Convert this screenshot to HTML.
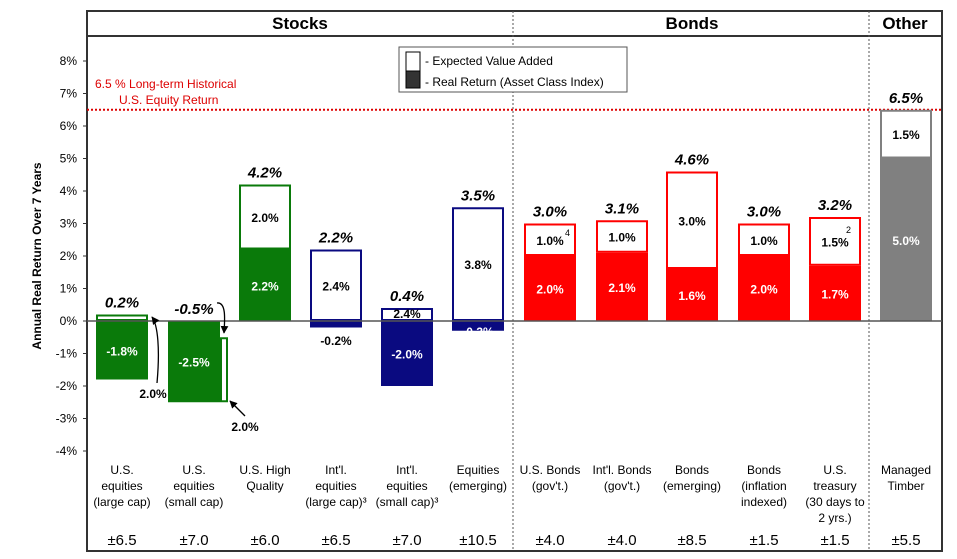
<!DOCTYPE html>
<html><head><meta charset="utf-8"><style>
body{margin:0;background:#fff;}
svg{display:block;font-family:"Liberation Sans",Arial,sans-serif;}
</style></head><body>
<svg id="chart" width="957" height="559" viewBox="0 0 957 559" xmlns="http://www.w3.org/2000/svg">
<defs><marker id="ah" viewBox="0 0 10 10" refX="9" refY="5" markerWidth="6" markerHeight="6" orient="auto"><path d="M0,0 L10,5 L0,10 z" fill="#000"/></marker></defs>
<g id="frame">
<rect x="87" y="11" width="855" height="540" fill="none" stroke="#333" stroke-width="2"/>
<line x1="87" y1="36" x2="942" y2="36" stroke="#333" stroke-width="2"/>
<line x1="513" y1="11" x2="513" y2="551" stroke="#555" stroke-width="1" stroke-dasharray="2,2"/>
<line x1="869" y1="11" x2="869" y2="551" stroke="#555" stroke-width="1" stroke-dasharray="2,2"/>
<text x="300" y="29" font-size="17" font-weight="bold" text-anchor="middle">Stocks</text>
<text x="692" y="29" font-size="17" font-weight="bold" text-anchor="middle">Bonds</text>
<text x="905" y="29" font-size="17" font-weight="bold" text-anchor="middle">Other</text>
</g>
<g id="yaxis"></g>
<text transform="translate(41,256) rotate(-90)" font-size="12" font-weight="bold" text-anchor="middle">Annual Real Return Over 7 Years</text>
<line id="histline" x1="87" x2="942" stroke="#d00" stroke-width="2" stroke-dasharray="2,2"/>
<text x="95" y="88" font-size="12" fill="#d00">6.5 % Long-term Historical</text>
<text x="119" y="104" font-size="12" fill="#d00">U.S. Equity Return</text>
<g>
<rect x="399" y="47" width="228" height="45" fill="#fff" stroke="#555"/>
<rect x="406" y="52" width="14" height="19" fill="#fff" stroke="#000"/>
<rect x="406" y="71" width="14" height="17" fill="#333" stroke="#000"/>
<text x="425" y="65" font-size="12">- Expected Value Added</text>
<text x="425" y="86" font-size="12">- Real Return (Asset Class Index)</text>
</g>
<g id="bars"></g>
<line id="zeroline" x1="87" x2="942" stroke="#555" stroke-width="1.5"/>
<g id="labels"></g>
<g>
<path d="M157,383 C160,350 158,325 152,317" fill="none" stroke="#000" stroke-width="1.3" marker-end="url(#ah)"/>
<text x="153" y="398" font-size="12" font-weight="bold" text-anchor="middle">2.0%</text>
<path d="M217,303 C226,302 225,318 224,333" fill="none" stroke="#000" stroke-width="1.3" marker-end="url(#ah)"/>
<path d="M245,416 L230,401" fill="none" stroke="#000" stroke-width="1.3" marker-end="url(#ah)"/>
<text x="245" y="431" font-size="12" font-weight="bold" text-anchor="middle">2.0%</text>
<text x="565" y="236" font-size="9">4</text>
<text x="846" y="233" font-size="9">2</text>
</g>
</svg>
<script>
const categories=[["U.S.","equities","(large cap)"],["U.S.","equities","(small cap)"],["U.S. High","Quality"],["Int'l.","equities","(large cap)³"],["Int'l.","equities","(small cap)³"],["Equities","(emerging)"],["U.S. Bonds","(gov't.)"],["Int'l. Bonds","(gov't.)"],["Bonds","(emerging)"],["Bonds","(inflation","indexed)"],["U.S.","treasury","(30 days to","2 yrs.)"],["Managed","Timber"]];
const realReturn=[-1.8,-2.5,2.2,-0.2,-2.0,-0.3,2.0,2.1,1.6,2.0,1.7,5.0];
const valueAdded=[2.0,2.0,2.0,2.4,2.4,3.8,1.0,1.0,3.0,1.0,1.5,1.5];
const totals=[0.2,-0.5,4.2,2.2,0.4,3.5,3.0,3.1,4.6,3.0,3.2,6.5];
const ranges=["±6.5","±7.0","±6.0","±6.5","±7.0","±10.5","±4.0","±4.0","±8.5","±1.5","±1.5","±5.5"];
const yTicks=[8,7,6,5,4,3,2,1,0,-1,-2,-3,-4];
const historical=6.5;
const colors=["#0a7a0a","#0a7a0a","#0a7a0a","#0a0a80","#0a0a80","#0a0a80","#f00","#f00","#f00","#f00","#f00","#808080"];
const barLefts=[96,168,239,310,381,452,524,596,666,738,809,880];
const bw=52;
const NS="http://www.w3.org/2000/svg";
function y(v){return 321-32.5*v;}
function mk(t,a,p){const e=document.createElementNS(NS,t);for(const k in a)e.setAttribute(k,a[k]);(p||document.getElementById('chart')).appendChild(e);return e;}
const ya=document.getElementById('yaxis');
yTicks.forEach(t=>{
 const l=mk('line',{x1:83,x2:87,y1:y(t),y2:y(t),stroke:'#333'},ya);
 
 
 const tx=mk('text',{x:77,y:y(t)+4,'font-size':12,'text-anchor':'end'},ya);tx.textContent=t+'%';
 
 
});
const hl=document.getElementById('histline');hl.setAttribute('y1',y(historical));hl.setAttribute('y2',y(historical));
const zl=document.getElementById('zeroline');zl.setAttribute('y1',y(0));zl.setAttribute('y2',y(0));
const bars=document.getElementById('bars'),labs=document.getElementById('labels');
categories.forEach((c,i)=>{
 const x=barLefts[i],col=colors[i],r=realReturn[i],tot=totals[i],cx=x+bw/2;
 const s=mk('rect',{x:x,y:Math.min(y(0),y(r)),width:bw,height:Math.abs(y(r)-y(0)),fill:col},bars);
 
 
 let wb;
 if(tot<0){wb={x:x+bw,y:y(tot),w:8,h:y(r)-y(tot)};}
 else{const base=r>0?r:0;wb={x:x,y:y(tot),w:bw,h:y(base)-y(tot)};}
 const w=mk('rect',{x:wb.x+1,y:wb.y+1,width:wb.w-2,height:Math.max(wb.h-2,0),fill:'#fff',stroke:col,'stroke-width':2},bars);
 
 
 const tt=mk('text',{x:cx,y:(tot<0?y(0):y(tot))-7,'font-size':15,'font-weight':'bold','font-style':'italic','text-anchor':'middle'},labs);
 tt.textContent=tot.toFixed(1)+'%';
 
 
 const rl=mk('text',{'font-size':12,'font-weight':'bold','text-anchor':'middle'},labs);
 
 
 if(r>-0.5){ if(r<0){rl.setAttribute('x',cx);rl.setAttribute('y',y(0)+(i==5?15:24));rl.setAttribute('fill',i==5?'#fff':'#000');}
   else{rl.setAttribute('x',cx);rl.setAttribute('y',(y(0)+y(r))/2+5);rl.setAttribute('fill','#fff');} }
 else{rl.setAttribute('x',cx);rl.setAttribute('y',(y(0)+y(r))/2+5);rl.setAttribute('fill','#fff');}
 rl.textContent=r.toFixed(1)+'%';
 if(i>1){
  const vl=mk('text',{x:cx,'font-size':12,'font-weight':'bold','text-anchor':'middle'},labs);
  
  
  const base=r>0?r:0;let yy=(y(base)+y(tot))/2+5;if(i==4)yy=y(0)-3;
  vl.setAttribute('y',yy);vl.textContent=valueAdded[i].toFixed(1)+'%';
 }
 c.forEach((ln,k)=>{const t=mk('text',{x:cx,y:474+k*16,'font-size':12,'text-anchor':'middle'},labs);t.textContent=ln;
  
  });
 const rg=mk('text',{x:cx,y:545,'font-size':15,'text-anchor':'middle'},labs);rg.textContent=ranges[i];
 
 
});
</script>
</body></html>
